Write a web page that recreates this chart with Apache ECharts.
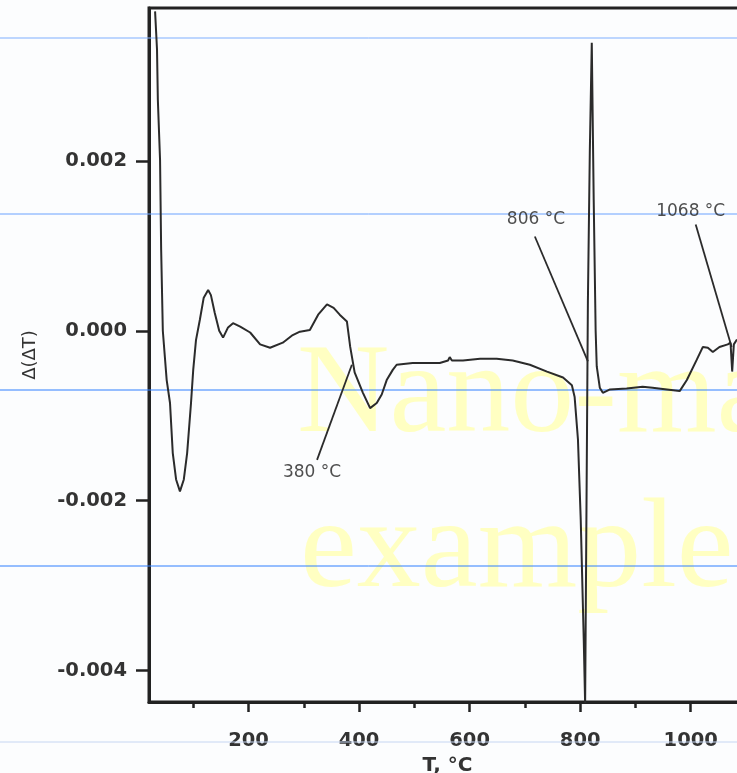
<!DOCTYPE html>
<html>
<head>
<meta charset="utf-8">
<script src="https://cdn.jsdelivr.net/npm/echarts@6/dist/echarts.min.js"></script>
<style>
html,body{margin:0;padding:0;background:#fcfdfe;}
#chart{width:737px;height:773px;}
</style>
</head>
<body>
<div id="chart"></div>
<script>
// Temperature, °C
const temps = [31, 34.5, 36, 40, 42, 45, 52, 58, 63, 69, 76, 83, 89, 96, 100, 105, 112, 119, 127, 132, 139, 147, 154, 163, 172, 185, 203, 221, 239, 262, 280, 293, 311, 326, 342, 354, 365, 378, 384, 392, 407, 420, 432, 441, 450, 461, 468, 497, 546, 561, 564, 568, 588, 619, 649, 678, 709, 740, 769, 785, 790, 796, 801, 806.5, 809, 814, 817.5, 821, 824.5, 828, 830, 835.5, 841, 854, 884, 913, 931, 957, 980, 993, 1011, 1022, 1031, 1040, 1052, 1067, 1072, 1075, 1078, 1083, 1095];
// Δ(ΔT)
const dT = [0.00376, 0.00331, 0.00272, 0.00201, 0.00095, 0.0, -0.00058, -0.00085, -0.00144, -0.00175, -0.00189, -0.00175, -0.00144, -0.00085, -0.00046, -0.00011, 0.00013, 0.00039, 0.00048, 0.00042, 0.00021, 0.0, -0.00008, 0.00004, 0.00009, 0.00005, -0.00002, -0.00016, -0.0002, -0.00014, -0.00005, -0.00001, 0.00001, 0.00019, 0.00031, 0.00027, 0.00019, 0.00011, -0.00019, -0.00049, -0.00073, -0.00091, -0.00085, -0.00075, -0.00058, -0.00046, -0.0004, -0.00038, -0.00038, -0.00035, -0.00031, -0.00035, -0.00035, -0.00033, -0.00033, -0.00035, -0.0004, -0.00048, -0.00055, -0.00064, -0.00078, -0.00128, -0.00222, -0.00364, -0.0044, 0.00036, 0.00213, 0.00339, 0.00154, 0.0, -0.00042, -0.00067, -0.00073, -0.00069, -0.00068, -0.00066, -0.00067, -0.00069, -0.00071, -0.00058, -0.00034, -0.00019, -0.0002, -0.00025, -0.00019, -0.00016, -0.00014, -0.00048, -0.00016, -0.00011, -0.0001];

const yTicks = [-0.004, -0.002, 0.0, 0.002];
const xMajorTicks = [200, 400, 600, 800, 1000];
const xMinorTicks = [100, 300, 500, 700, 900];

const annoText = ['380 °C', '806 °C', '1068 °C'];
const annoLabelT = [315, 720, 1000];
const annoLabelV = [-0.00167, 0.00131, 0.0014];
const annoFromT = [324, 718, 1009];
const annoFromV = [-0.00152, 0.00111, 0.00125];
const annoToT = [387, 814, 1074];
const annoToV = [-0.0004, -0.00036, -0.00019];

const mainData = temps.map((t, i) => [t, dT[i]]);

const series = [{
  type: 'line',
  data: mainData,
  showSymbol: false,
  symbol: 'none',
  lineStyle: {color: '#2b2b2b', width: 2},
  z: 5,
  silent: true
}];
annoText.forEach((txt, i) => {
  series.push({
    type: 'line',
    data: [[annoFromT[i], annoFromV[i]], [annoToT[i], annoToV[i]]],
    symbol: 'none',
    lineStyle: {color: '#2b2b2b', width: 1.8},
    z: 5,
    silent: true
  });
});
series.push({
  type: 'scatter',
  symbolSize: 0,
  data: annoText.map((txt, i) => ({name: txt, value: [annoLabelT[i], annoLabelV[i]]})),
  label: {
    show: true, position: 'inside', formatter: p => p.name,
    fontFamily: 'DejaVu Sans', fontSize: 17, color: '#222'
  },
  z: 6,
  silent: true
});

const chart = echarts.init(document.getElementById('chart'), null, {renderer: 'canvas'});
const blueLines = [
  {y: 38, c: '#7eafff'}, {y: 214, c: '#6aa2ff'}, {y: 390, c: '#2f7fff'},
  {y: 566, c: '#2f7fff'}, {y: 742, c: '#c6d6f2'}
];
chart.setOption({
  animation: false,
  backgroundColor: '#fcfdfe',
  grid: {left: 149, top: 8, width: 597, height: 694, show: true, borderColor: '#222', borderWidth: 3,
         outerBoundsMode: 'none', containLabel: false},
  xAxis: [{
    type: 'value', min: 20, max: 1100,
    name: 'T, °C', nameLocation: 'middle', nameGap: 49,
    nameTextStyle: {fontFamily: 'DejaVu Sans', fontWeight: 'bold', fontSize: 20, color: '#333'},
    axisLine: {onZero: false, lineStyle: {color: '#222', width: 3}},
    axisTick: {customValues: xMajorTicks, length: 10, lineStyle: {color: '#222', width: 2.5}},
    axisLabel: {customValues: xMajorTicks, margin: 29, formatter: v => String(v),
      fontFamily: 'DejaVu Sans', fontWeight: 'bold', fontSize: 19.5, color: '#333'},
    splitLine: {show: false}
  }, {
    type: 'value', min: 20, max: 1100, position: 'bottom', gridIndex: 0,
    axisLine: {show: false, onZero: false},
    axisTick: {customValues: xMinorTicks, length: 6, lineStyle: {color: '#222', width: 2.5}},
    axisLabel: {show: false},
    splitLine: {show: false}
  }],
  yAxis: {
    type: 'value', min: -0.00437, max: 0.0038,
    name: 'Δ(ΔT)', nameLocation: 'middle', nameGap: 110,
    nameTextStyle: {fontFamily: 'DejaVu Sans', fontSize: 18, color: '#333'},
    axisLine: {lineStyle: {color: '#222', width: 3}},
    axisTick: {customValues: yTicks, length: 13, lineStyle: {color: '#222', width: 2.5}},
    axisLabel: {customValues: yTicks, margin: 22, formatter: v => v.toFixed(3),
      fontFamily: 'DejaVu Sans', fontWeight: 'bold', fontSize: 19.5, color: '#333'},
    splitLine: {show: false}
  },
  graphic: [
    {type: 'text', left: 297, top: 333, z: -10, silent: true,
     style: {text: 'Nano-ma', font: '128px "Liberation Serif"', fill: '#ffffc2'}},
    {type: 'text', left: 300, top: 488, z: -10, silent: true,
     style: {text: 'example', font: '128px "Liberation Serif"', fill: '#ffffc2'}}
  ].concat(blueLines.map(b => ({
    type: 'line', z: 1, silent: true,
    shape: {x1: 0, y1: b.y, x2: 737, y2: b.y},
    style: {stroke: b.c, lineWidth: 1}
  }))),
  series: series
});
</script>
</body>
</html>
